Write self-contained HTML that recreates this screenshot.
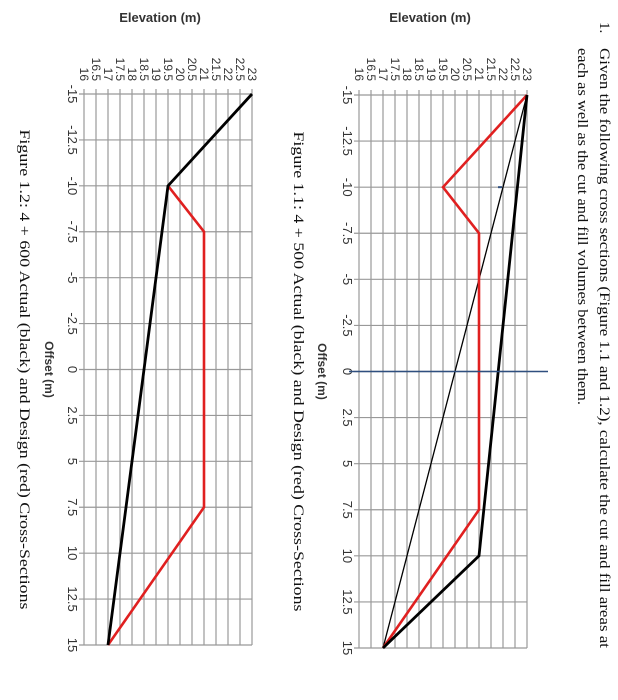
<!DOCTYPE html>
<html><head><meta charset="utf-8"><style>
html,body{margin:0;padding:0;background:#fff;width:618px;height:700px;overflow:hidden}
svg text{font-family:"Liberation Sans",sans-serif}
.serif{font-family:"Liberation Serif",serif}
</style></head><body>
<svg id="svg" width="618" height="700" viewBox="0 0 618 700" xmlns="http://www.w3.org/2000/svg">
<text x="430" y="22" font-size="13" font-weight="bold" text-anchor="middle" fill="#333">Elevation (m)</text>
<text x="160" y="22" font-size="13" font-weight="bold" text-anchor="middle" fill="#333">Elevation (m)</text>
<text class="serif" transform="translate(600,22) rotate(90)" font-size="15" fill="#111">1.</text>
<text class="serif" transform="translate(600,48) rotate(90)" font-size="15" fill="#111" textLength="600" lengthAdjust="spacingAndGlyphs">Given the following cross sections (Figure 1.1 and 1.2), calculate the cut and fill areas at</text>
<text class="serif" transform="translate(578,48) rotate(90)" font-size="15" fill="#111" textLength="357" lengthAdjust="spacingAndGlyphs">each as well as the cut and fill volumes between them.</text>
<g id="c1"></g>
<g id="c2"></g>
</svg>
<script>
const elevTicks = [16,16.5,17,17.5,18,18.5,19,19.5,20,20.5,21,21.5,22,22.5,23];
const offsetTicks = [-15,-12.5,-10,-7.5,-5,-2.5,0,2.5,5,7.5,10,12.5,15];
const c1RedOffset = [-15,-10,-7.5,7.5,15];
const c1RedElev = [23,19.5,21,21,17];
const c1BlackOffset = [-15,10,15];
const c1BlackElev = [23,21,17];
const c1ThinOffset = [-15,15];
const c1ThinElev = [23,17];
const c2RedOffset = [-10,-7.5,7.5,15];
const c2RedElev = [19.5,21,21,17];
const c2BlackOffset = [-15,-10,15];
const c2BlackElev = [23,19.5,17];
const NS='http://www.w3.org/2000/svg';
function mk(tag,parent,attrs){const e=document.createElementNS(NS,tag);for(const k in attrs)e.setAttribute(k,attrs[k]);parent.appendChild(e);return e;}
function chart(g, right, yTop, yBot, labX, titleX, capX, caption, series){
  const left = right - 168;
  const ex = v => left + (v-16)/7*(right-left);
  const oy = v => yTop + (v+15)/30*(yBot-yTop);
  elevTicks.forEach(v=>{
    const l=mk('line',g,{x1:ex(v),x2:ex(v),y1:yTop-5,y2:yBot,stroke:'#999','stroke-width':1.2});
    
    
    const t=mk('text',g,{transform:`translate(${ex(v)-4},81) rotate(90)`,'font-size':12,'text-anchor':'end',fill:'#333'});
    t.textContent=v;
    
    
  });
  offsetTicks.forEach(v=>{
    const l=mk('line',g,{x1:left-5,x2:right,y1:oy(v),y2:oy(v),stroke:'#999','stroke-width':1.2});
    
    
    const t=mk('text',g,{transform:`translate(${labX},${oy(v)}) rotate(90)`,'font-size':13,'text-anchor':'middle',fill:'#333'});
    t.textContent=v;
    
    
  });
  const ot=mk('text',g,{transform:`translate(${titleX},${oy(0)}) rotate(90)`,'font-size':12,'font-weight':'bold','text-anchor':'middle',fill:'#333'});
  ot.textContent='Offset (m)';
  
  
  const cp=mk('text',g,{class:'serif',transform:`translate(${capX},${oy(0)}) rotate(90)`,'font-size':15,'text-anchor':'middle',fill:'#111',textLength:480,lengthAdjust:'spacingAndGlyphs'});
  cp.textContent=caption;
  
  
  series.forEach(s=>{
    const pts=s.o.map((o,i)=>ex(s.e[i])+','+oy(o)).join(' ');
    const p=mk('polyline',g,{points:pts,fill:'none',stroke:s.c,'stroke-width':s.w,'stroke-linejoin':'miter'});
    
    
  });
  return {ex,oy};
}
const g1=document.getElementById('c1'), g2=document.getElementById('c2');
const a1=chart(g1,527,95,648,343,318,294,'Figure 1.1: 4 + 500 Actual (black) and Design (red) Cross-Sections',[
 {o:c1ThinOffset,e:c1ThinElev,c:'#000',w:1.3,n:'thin-black-line'},
 {o:c1RedOffset,e:c1RedElev,c:'#e02020',w:2.6,n:'design-red-line'},
 {o:c1BlackOffset,e:c1BlackElev,c:'#000',w:2.8,n:'actual-black-line'}]);
const bl=mk('line',g1,{x1:349,x2:548,y1:a1.oy(0),y2:a1.oy(0),stroke:'#2f4f7f','stroke-width':1.5});


const bm=mk('line',g1,{x1:498,x2:502,y1:a1.oy(-10),y2:a1.oy(-10),stroke:'#2f4f7f','stroke-width':2});


chart(g2,252,94,645,68,45,20,'Figure 1.2: 4 + 600 Actual (black) and Design (red) Cross-Sections',[
 {o:c2RedOffset,e:c2RedElev,c:'#e02020',w:2.6,n:'design-red-line'},
 {o:c2BlackOffset,e:c2BlackElev,c:'#000',w:2.8,n:'actual-black-line'}]);
</script>
</body></html>
